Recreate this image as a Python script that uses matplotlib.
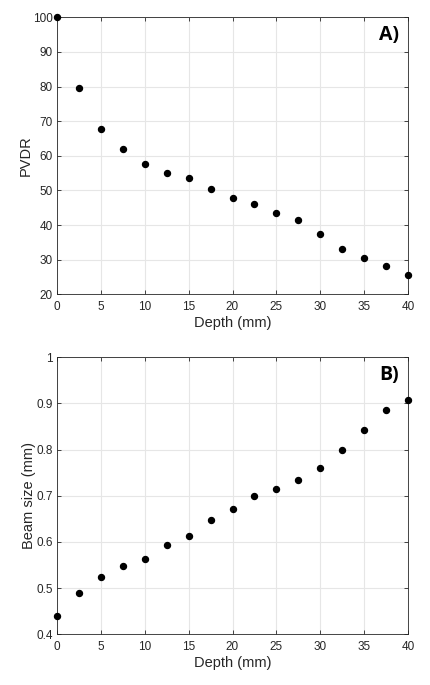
import matplotlib.pyplot as plt

depth = [0, 2.5, 5, 7.5, 10, 12.5, 15, 17.5, 20, 22.5, 25, 27.5, 30, 32.5, 35, 37.5, 40]
pvdr = [100, 79.6, 67.6, 61.9, 57.7, 55.0, 53.5, 50.3, 47.7, 46.1, 43.6, 41.4,
        37.3, 33.0, 30.6, 28.3, 25.6]
beam_size = [0.440, 0.489, 0.524, 0.547, 0.563, 0.594, 0.613, 0.648, 0.671, 0.699,
             0.714, 0.735, 0.761, 0.799, 0.842, 0.885, 0.907]

plt.rcParams['font.family'] = ['Liberation Sans', 'DejaVu Sans']

fig = plt.figure(figsize=(4.3, 6.85), dpi=100)
ax1 = fig.add_axes([57 / 430, 1 - 294.3 / 685, 351 / 430, 277 / 685])
ax2 = fig.add_axes([57 / 430, 1 - 634.3 / 685, 351 / 430, 277 / 685])

panels = [(ax1, pvdr, 'PVDR', (20, 100), range(20, 101, 10), 'A)'),
          (ax2, beam_size, 'Beam size (mm)', (0.4, 1.0),
           [0.4, 0.5, 0.6, 0.7, 0.8, 0.9, 1.0], 'B)')]

for ax, vals, ylabel, ylim, yticks, tag in panels:
    ax.plot(depth, vals, 'o', color='black', ms=4.3, clip_on=False, zorder=3)
    ax.set_xlim(0, 40)
    ax.set_ylim(*ylim)
    ax.set_xticks(range(0, 41, 5))
    ax.set_yticks(list(yticks))
    if tag == 'B)':
        ax.set_yticklabels(['0.4', '0.5', '0.6', '0.7', '0.8', '0.9', '1'])
    ax.grid(True, color='#e6e6e6', linewidth=0.8)
    ax.set_axisbelow(True)
    ax.tick_params(direction='in', top=True, right=True, length=3,
                   labelsize=8.5, colors='#262626', width=0.6)
    ax.tick_params(axis='x', pad=5)
    ax.tick_params(axis='y', pad=3)
    for sp in ax.spines.values():
        sp.set_color('#262626')
        sp.set_linewidth(0.6)
    ax.set_xlabel('Depth (mm)', fontsize=10.5, color='#262626', labelpad=2)
    ax.set_ylabel(ylabel, fontsize=10.5, color='#262626', labelpad=0)
    ax.text(0.975, 0.935, tag, transform=ax.transAxes, ha='right', va='center',
            fontsize=14, fontweight='bold', family=['Open Sans', 'DejaVu Sans'])

fig.savefig('out.png', dpi=100)
